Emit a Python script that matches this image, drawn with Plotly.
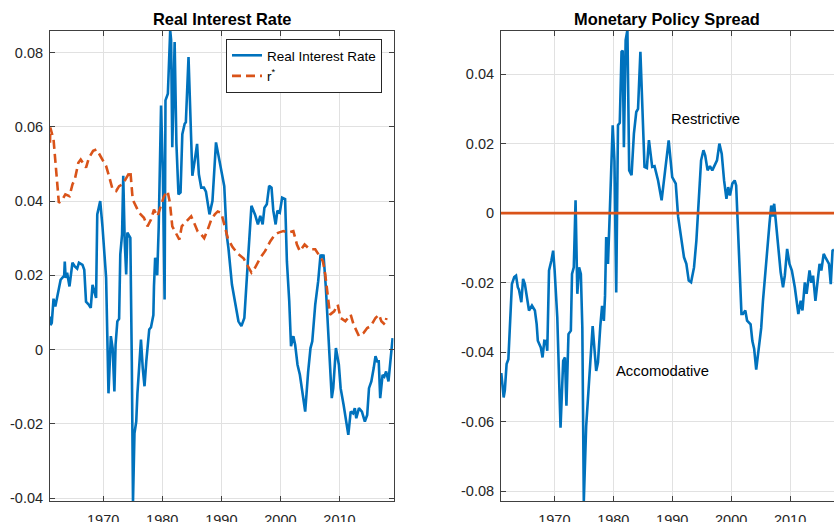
import plotly.graph_objects as go

# ---------------- data ----------------
rate_years = [1961.0, 1961.1, 1961.3, 1961.6, 1961.9, 1962.3, 1962.8, 1963.4, 1963.5, 1963.65, 1963.9, 1964.3,
              1964.8, 1965.2, 1965.6, 1965.9, 1966.5, 1966.8, 1967.1, 1967.6, 1967.9, 1968.2, 1968.5, 1968.8,
              1969.0, 1969.5, 1969.9, 1970.5, 1970.9, 1971.3, 1971.6, 1971.9, 1972.1, 1972.4, 1972.7, 1972.9,
              1973.2, 1973.4, 1973.65, 1973.9, 1974.1, 1974.6, 1974.85, 1975.05, 1975.3, 1975.6, 1975.8, 1976.4,
              1976.7, 1977.0, 1977.3, 1977.8, 1978.1, 1978.5, 1978.6, 1978.8, 1979.0, 1979.15, 1979.4, 1979.8,
              1980.1, 1980.4, 1980.55, 1980.95, 1981.35, 1981.5, 1981.7, 1982.1, 1982.4, 1982.75, 1983.1, 1983.4,
              1983.8, 1984.0, 1984.45, 1984.8, 1985.1, 1985.5, 1985.9, 1986.2, 1986.6, 1987.05, 1987.4, 1988.0,
              1988.5, 1989.1, 1989.7, 1990.1, 1990.5, 1990.9, 1991.2, 1991.8, 1992.3, 1992.9, 1993.4, 1993.9,
              1994.5, 1995.1, 1995.7, 1996.2, 1996.6, 1997.0, 1997.3, 1997.7, 1998.1, 1998.5, 1998.8, 1999.2,
              1999.5, 1999.9, 2000.3, 2000.8, 2001.1, 2001.5, 2001.8, 2002.2, 2002.5, 2002.9, 2003.3, 2003.6,
              2004.2, 2004.7, 2005.1, 2005.4, 2005.9, 2006.4, 2006.8, 2007.05, 2007.3, 2007.7, 2008.2, 2008.7,
              2008.95, 2009.4, 2009.9, 2010.2, 2010.7, 2011.1, 2011.5, 2011.9, 2012.3, 2012.6, 2012.85, 2013.3,
              2013.8, 2014.3, 2014.7, 2015.0, 2015.4, 2015.8, 2016.1, 2016.4, 2016.65, 2016.9, 2017.3, 2017.6,
              2017.9, 2018.3, 2018.6, 2019.0]
real_rate = [0.0089, 0.0066, 0.0072, 0.0137, 0.0116, 0.0152, 0.0188, 0.0199, 0.0237, 0.0193, 0.0207, 0.0170,
             0.0234, 0.0224, 0.0218, 0.0234, 0.0228, 0.0215, 0.0129, 0.0120, 0.0112, 0.0174, 0.0153, 0.0139,
             0.0364, 0.0400, 0.0328, 0.0193, -0.0118, 0.0036, 0.0004, -0.0113, 0.0013, 0.0076, 0.0083, 0.0256,
             0.0310, 0.0468, 0.0290, 0.0202, 0.0315, 0.0301, -0.0032, -0.0410, -0.0226, -0.0194, -0.0118, 0.0027,
             -0.0050, -0.0099, -0.0032, 0.0054, 0.0060, 0.0093, 0.0170, 0.0247, 0.0229, 0.0200, 0.0328, 0.0657,
             0.0482, 0.0135, 0.0671, 0.0689, 0.0860, 0.0834, 0.0545, 0.0828, 0.0554, 0.0418, 0.0423, 0.0580,
             0.0608, 0.0612, 0.0788, 0.0599, 0.0468, 0.0509, 0.0554, 0.0472, 0.0436, 0.0436, 0.0425, 0.0364,
             0.0400, 0.0558, 0.0505, 0.0470, 0.0440, 0.0310, 0.0274, 0.0175, 0.0130, 0.0076, 0.0063, 0.0085,
             0.0238, 0.0387, 0.0364, 0.0337, 0.0360, 0.0337, 0.0382, 0.0391, 0.0441, 0.0436, 0.0374, 0.0337,
             0.0374, 0.0369, 0.0409, 0.0405, 0.0238, 0.0130, 0.0009, 0.0036, 0.0013, -0.0041, -0.0068, -0.0104,
             -0.0167, -0.0060, 0.0004, 0.0022, 0.0121, 0.0184, 0.0256, 0.0247, 0.0256, 0.0166, 0.0022, -0.0131,
             -0.0104, 0.0004, -0.0041, -0.0104, -0.0149, -0.0185, -0.0230, -0.0167, -0.0172, -0.0158, -0.0185, -0.0158,
             -0.0167, -0.0194, -0.0176, -0.0104, -0.0086, -0.0050, -0.0018, -0.0032, -0.0032, -0.0131, -0.0068, -0.0073,
             -0.0059, -0.0086, -0.0041, 0.0031]

rstar_years = [1961.0, 1961.05, 1961.6, 1962.0, 1962.5, 1963.1, 1963.6, 1964.3, 1964.8, 1965.2, 1965.8, 1966.2,
               1967.1, 1967.6, 1968.3, 1968.9, 1969.6, 1970.5, 1971.0, 1971.6, 1972.2, 1972.7, 1973.3, 1974.1,
               1974.6, 1975.0, 1975.5, 1976.1, 1976.9, 1977.5, 1978.1, 1978.6, 1979.2, 1979.8, 1980.3, 1980.9,
               1981.3, 1981.7, 1982.3, 1982.9, 1983.3, 1984.0, 1984.9, 1985.4, 1986.0, 1986.6, 1987.1, 1987.7,
               1988.3, 1988.9, 1989.4, 1990.0, 1990.5, 1991.1, 1991.9, 1992.8, 1993.8, 1994.5, 1995.1, 1995.7,
               1996.6, 1997.4, 1998.3, 1999.1, 1999.7, 2000.5, 2001.4, 2002.2, 2002.8, 2003.3, 2004.1, 2004.7,
               2005.1, 2005.9, 2006.5, 2007.2, 2007.6, 2008.0, 2008.4, 2009.1, 2009.7, 2010.2, 2011.0, 2011.9,
               2012.4, 2013.3, 2014.1, 2014.7, 2015.3, 2016.1, 2016.7, 2017.1, 2017.7, 2017.95]
rstar = [0.0557, 0.0598, 0.0566, 0.0494, 0.0395, 0.0404, 0.0418, 0.0413, 0.0445, 0.0458, 0.0503, 0.0512,
         0.0490, 0.0517, 0.0535, 0.0539, 0.0521, 0.0494, 0.0467, 0.0431, 0.0427, 0.0440, 0.0445, 0.0467,
         0.0481, 0.0404, 0.0386, 0.0368, 0.0355, 0.0332, 0.0350, 0.0377, 0.0359, 0.0386, 0.0413, 0.0427,
         0.0395, 0.0332, 0.0314, 0.0296, 0.0332, 0.0345, 0.0359, 0.0341, 0.0318, 0.0310, 0.0300, 0.0323,
         0.0350, 0.0364, 0.0372, 0.0368, 0.0340, 0.0300, 0.0276, 0.0258, 0.0245, 0.0226, 0.0207, 0.0220,
         0.0247, 0.0265, 0.0292, 0.0310, 0.0315, 0.0319, 0.0315, 0.0319, 0.0283, 0.0265, 0.0283, 0.0274,
         0.0270, 0.0270, 0.0256, 0.0238, 0.0202, 0.0148, 0.0094, 0.0103, 0.0121, 0.0085, 0.0076, 0.0094,
         0.0067, 0.0036, 0.0045, 0.0058, 0.0063, 0.0085, 0.0094, 0.0076, 0.0067, 0.0085]

spread_years = [1961.0, 1961.4, 1961.6, 1961.9, 1962.2, 1962.5, 1962.8, 1963.2, 1963.5, 1963.8, 1964.0, 1964.4,
                1964.7, 1965.0, 1965.3, 1965.7, 1966.2, 1966.7, 1967.0, 1967.2, 1967.7, 1968.0, 1968.3, 1968.6,
                1968.8, 1969.1, 1969.5, 1969.8, 1970.05, 1970.5, 1971.05, 1971.5, 1971.8, 1972.05, 1972.4, 1972.8,
                1973.0, 1973.3, 1973.6, 1973.9, 1974.2, 1974.5, 1974.75, 1975.0, 1975.4, 1975.8, 1976.5, 1977.1,
                1977.4, 1977.8, 1978.1, 1978.4, 1978.6, 1978.8, 1979.1, 1979.4, 1979.9, 1980.2, 1980.5, 1980.8,
                1981.1, 1981.4, 1981.6, 1981.8, 1982.1, 1982.4, 1982.7, 1983.1, 1983.5, 1983.9, 1984.2, 1984.6,
                1985.0, 1985.3, 1985.7, 1986.05, 1986.6, 1987.0, 1987.6, 1988.2, 1988.8, 1989.4, 1990.0, 1990.6,
                1991.0, 1991.5, 1992.0, 1992.4, 1992.8, 1993.2, 1993.7, 1994.1, 1994.5, 1994.9, 1995.3, 1995.6,
                1996.0, 1996.4, 1996.8, 1997.2, 1997.6, 1998.0, 1998.4, 1998.8, 1999.2, 1999.5, 1999.8, 2000.2,
                2000.6, 2000.85, 2001.1, 2001.4, 2001.75, 2002.0, 2002.4, 2002.7, 2003.0, 2003.3, 2003.6, 2003.9,
                2004.25, 2004.7, 2005.1, 2005.4, 2005.8, 2006.2, 2006.5, 2006.8, 2007.05, 2007.3, 2007.5, 2008.1,
                2008.4, 2008.8, 2009.1, 2009.5, 2009.9, 2010.3, 2010.8, 2011.4, 2011.8, 2012.1, 2012.5, 2012.8,
                2013.3, 2013.6, 2013.9, 2014.3, 2014.6, 2015.0, 2015.3, 2015.7, 2016.0, 2016.6, 2016.9, 2017.2,
                2017.45]
spread = [-0.0460, -0.0530, -0.0510, -0.0434, -0.0420, -0.0309, -0.0204, -0.0184, -0.0180, -0.0213, -0.0220, -0.0256,
          -0.0189, -0.0204, -0.0232, -0.0280, -0.0266, -0.0280, -0.0319, -0.0367, -0.0386, -0.0415, -0.0367, -0.0368,
          -0.0396, -0.0165, -0.0136, -0.0108, -0.0165, -0.0300, -0.0617, -0.0425, -0.0415, -0.0554, -0.0348, -0.0338,
          -0.0175, -0.0156, 0.0037, -0.0232, -0.0156, -0.0175, -0.0329, -0.0828, -0.0613, -0.0517, -0.0325, -0.0454,
          -0.0430, -0.0325, -0.0267, -0.0310, -0.0238, -0.0069, -0.0146, -0.0002, 0.0253, 0.0150, -0.0228, 0.0253,
          0.0260, 0.0464, 0.0468, 0.0190, 0.0498, 0.0527, 0.0123, 0.0109, 0.0229, 0.0291, 0.0300, 0.0464,
          0.0267, 0.0133, 0.0130, 0.0210, 0.0133, 0.0135, 0.0094, 0.0037, 0.0123, 0.0209, 0.0104, 0.0085,
          -0.0010, -0.0069, -0.0127, -0.0146, -0.0194, -0.0199, -0.0156, -0.0079, 0.0056, 0.0152, 0.0181, 0.0166,
          0.0123, 0.0135, 0.0123, 0.0140, 0.0152, 0.0200, 0.0171, 0.0094, 0.0041, 0.0075, 0.0051, 0.0085,
          0.0094, 0.0080, -0.0040, -0.0130, -0.0290, -0.0290, -0.0280, -0.0309, -0.0315, -0.0320, -0.0368, -0.0390,
          -0.0450, -0.0386, -0.0330, -0.0252, -0.0165, -0.0098, -0.0031, 0.0022, -0.0010, 0.0027, -0.0010, -0.0136,
          -0.0170, -0.0213, -0.0180, -0.0103, -0.0146, -0.0165, -0.0213, -0.0290, -0.0252, -0.0280, -0.0199, -0.0232,
          -0.0165, -0.0200, -0.0180, -0.0252, -0.0213, -0.0146, -0.0165, -0.0117, -0.0127, -0.0146, -0.0204, -0.0108,
          -0.0105]

x_ticks = [1970, 1980, 1990, 2000, 2010]
left_y_ticks = [-0.04, -0.02, 0, 0.02, 0.04, 0.06, 0.08]
left_y_labels = ["-0.04", "-0.02", "0", "0.02", "0.04", "0.06", "0.08"]
right_y_ticks = [-0.08, -0.06, -0.04, -0.02, 0, 0.02, 0.04]
right_y_labels = ["-0.08", "-0.06", "-0.04", "-0.02", "0", "0.02", "0.04"]

# ---------------- figure ----------------
BLUE = "#0072BD"
ORANGE = "#D95319"
AXC = "#404040"
TXT = "#262626"
GRID = "#E1E1E1"
FONT = "Liberation Sans, Arial, Helvetica, sans-serif"

fig = go.Figure()
fig.add_trace(go.Scatter(x=rate_years, y=real_rate, mode="lines", name="Real Interest Rate",
                         line=dict(color=BLUE, width=2.6), xaxis="x", yaxis="y"))
fig.add_trace(go.Scatter(x=rstar_years, y=rstar, mode="lines", name="r<sup>*</sup>",
                         line=dict(color=ORANGE, width=2.6, dash="9px,5px"), xaxis="x", yaxis="y"))
fig.add_trace(go.Scatter(x=spread_years, y=spread, mode="lines", showlegend=False,
                         line=dict(color=BLUE, width=2.6), xaxis="x2", yaxis="y2"))

W, H = 834, 522
ml, mr, mt, mb = 50, 0, 31, 21
pw = W - ml - mr
ph = H - mt - mb

def px_x(p):
    return (p - ml) / pw

left_dom = [0.0, px_x(393.5)]
right_dom = [px_x(501), 1.0]

common_x = dict(showgrid=True, gridcolor=GRID, gridwidth=1, showline=True, linecolor=AXC, linewidth=1,
                ticks="inside", ticklen=5, tickcolor=AXC, tickvals=x_ticks, zeroline=False, automargin=False,
                tickfont=dict(family=FONT, size=14.5, color=TXT), ticklabelstandoff=6)
common_y = dict(showgrid=True, gridcolor=GRID, gridwidth=1, showline=True, linecolor=AXC, linewidth=1,
                ticks="inside", ticklen=5, tickcolor=AXC, zeroline=False, automargin=False,
                tickfont=dict(family=FONT, size=14.5, color=TXT), ticklabelstandoff=3)

fig.update_layout(
    width=W, height=H, margin=dict(l=ml, r=mr, t=mt, b=mb, pad=0, autoexpand=False),
    paper_bgcolor="white", plot_bgcolor="white",
    font=dict(family=FONT, color=TXT),
    xaxis=dict(domain=left_dom, range=[1961.0, 2019.15], mirror="ticks", anchor="y", **common_x),
    yaxis=dict(domain=[0, 1], range=[-0.0408, 0.0858], tickvals=left_y_ticks, ticktext=left_y_labels,
               mirror="ticks", anchor="x", **common_y),
    xaxis2=dict(domain=right_dom, range=[1960.95, 2017.45], mirror="ticks", anchor="y2", **common_x),
    yaxis2=dict(domain=[0, 1], range=[-0.0828, 0.0524], tickvals=right_y_ticks, ticktext=right_y_labels,
                mirror=False, anchor="x2", **common_y),
    legend=dict(x=px_x(226), y=1 - (39 - mt) / ph, xanchor="left", yanchor="top",
                bgcolor="white", bordercolor=TXT, borderwidth=1,
                font=dict(family=FONT, size=13.5, color="#000000"), tracegroupgap=0),
    showlegend=True,
)

fig.add_shape(type="line", xref="x2 domain", yref="y2", x0=0, x1=1, y0=0, y1=0,
              line=dict(color=ORANGE, width=2.6))

title_y = 1 + (mt - 19) / ph
fig.add_annotation(text="<b>Real Interest Rate</b>", xref="paper", yref="paper",
                   x=(left_dom[0] + left_dom[1]) / 2, y=title_y, showarrow=False,
                   xanchor="center", yanchor="middle", font=dict(family=FONT, size=16.4, color="#000000"))
fig.add_annotation(text="<b>Monetary Policy Spread</b>", xref="paper", yref="paper",
                   x=px_x(667), y=title_y, showarrow=False,
                   xanchor="center", yanchor="middle", font=dict(family=FONT, size=16.4, color="#000000"))
fig.add_annotation(text="Restrictive", xref="x2", yref="y2", x=1989.45, y=0.027, showarrow=False,
                   xanchor="left", yanchor="middle", font=dict(family=FONT, size=14.8, color="#000000"))
fig.add_annotation(text="Accomodative", xref="x2", yref="y2", x=1980.2, y=-0.0455, showarrow=False,
                   xanchor="left", yanchor="middle", font=dict(family=FONT, size=14.8, color="#000000"))

fig.write_html("out.html", config={"displayModeBar": False},
               post_script="document.body.style.margin='0';document.body.style.overflow='hidden';")
